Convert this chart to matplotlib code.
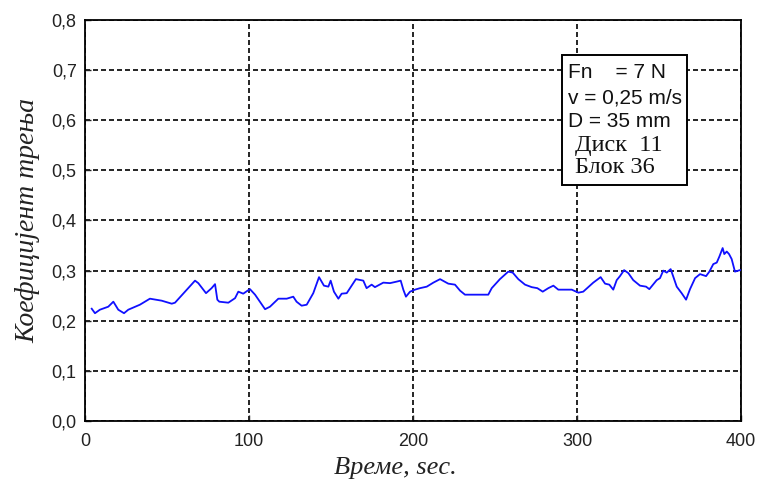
import matplotlib
matplotlib.use("Agg")
import matplotlib.pyplot as plt
from matplotlib.patches import Rectangle
from matplotlib.ticker import FuncFormatter

# Friction coefficient vs time
time_s = [4.1, 6.1, 9.1, 14.2, 17.3, 20.3, 23.8, 26.4, 33.5, 39.6, 46.8, 52.9, 54.9,
          61.0, 67.1, 69.1, 73.8, 77.2, 79.3, 80.7, 81.9, 87.4, 91.5, 93.5, 96.5, 99.6,
          100.6, 103.7, 109.8, 112.8, 117.9, 123.0, 127.0, 129.0, 132.1, 135.2, 139.2,
          142.7, 145.7, 148.4, 149.8, 151.8, 154.5, 156.5, 159.6, 165.2, 169.7, 171.7,
          174.8, 176.8, 181.9, 186.0, 190.0, 192.5, 194.1, 195.7, 198.2, 201.2, 204.3,
          208.4, 212.4, 216.5, 221.5, 225.6, 228.7, 231.7, 245.9, 248.0, 253.0, 258.1,
          260.8, 264.2, 268.3, 272.4, 275.8, 279.1, 282.5, 285.6, 288.6, 293.7, 296.8,
          300.8, 303.8, 309.9, 314.4, 317.1, 319.7, 322.1, 324.2, 326.2, 328.7, 331.3,
          334.3, 338.4, 342.1, 344.1, 348.6, 350.6, 352.6, 354.7, 357.1, 358.7, 360.8,
          363.8, 366.5, 368.9, 372.0, 375.0, 378.7, 380.7, 383.1, 385.2, 386.8, 388.8,
          389.8, 391.3, 392.7, 394.3, 396.3, 399.4]
mu = [0.224, 0.215, 0.222, 0.228, 0.238, 0.222, 0.215, 0.222, 0.232, 0.244, 0.240,
      0.234, 0.236, 0.258, 0.280, 0.275, 0.255, 0.265, 0.273, 0.242, 0.238, 0.236,
      0.245, 0.258, 0.254, 0.261, 0.263, 0.252, 0.223, 0.228, 0.244, 0.244, 0.248,
      0.238, 0.230, 0.232, 0.255, 0.287, 0.270, 0.268, 0.280, 0.258, 0.244, 0.254,
      0.255, 0.283, 0.280, 0.265, 0.272, 0.267, 0.276, 0.275, 0.278, 0.280, 0.262,
      0.248, 0.258, 0.262, 0.265, 0.268, 0.276, 0.283, 0.274, 0.272, 0.260, 0.252,
      0.252, 0.265, 0.283, 0.298, 0.296, 0.283, 0.272, 0.267, 0.265, 0.258, 0.265,
      0.270, 0.262, 0.262, 0.262, 0.256, 0.258, 0.276, 0.287, 0.274, 0.272, 0.262,
      0.281, 0.289, 0.301, 0.295, 0.281, 0.270, 0.268, 0.263, 0.281, 0.285, 0.300,
      0.296, 0.303, 0.288, 0.268, 0.255, 0.242, 0.263, 0.285, 0.293, 0.289, 0.298,
      0.313, 0.316, 0.328, 0.345, 0.333, 0.338, 0.333, 0.323, 0.298, 0.301]

x_ticks = [0, 100, 200, 300, 400]
y_ticks = [0.0, 0.1, 0.2, 0.3, 0.4, 0.5, 0.6, 0.7, 0.8]
info_lines = ["Fn    = 7 N", "v = 0,25 m/s", "D = 35 mm"]
info_lines_serif = ["Диск  11", "Блок 36"]

fig = plt.figure(figsize=(7.58, 4.84), dpi=100)
ax = fig.add_axes([0.1121, 0.1302, 0.8655, 0.8285])

ax.plot(time_s, mu, color="#1010ff", linewidth=1.3, zorder=3)

ax.set_xlim(0, 400)
ax.set_ylim(0, 0.8)
ax.set_xticks(x_ticks)
ax.set_yticks(y_ticks)
ax.yaxis.set_major_formatter(FuncFormatter(lambda v, p: f"{v:.1f}".replace(".", ",")))
ax.tick_params(direction="in", length=4, width=1, labelsize=13, colors="#222222")
ax.tick_params(axis="x", pad=9)
ax.tick_params(axis="y", pad=6)
for lab in ax.get_xticklabels() + ax.get_yticklabels():
    lab.set_family("Liberation Sans")

ax.grid(True, color="black", linestyle=(0, (3.0, 1.8)), linewidth=1.2, zorder=1)
for s in ax.spines.values():
    s.set_linewidth(1.3)

ax.set_xlabel("Време, sec.", fontsize=19, family="Liberation Serif", style="italic",
              color="#222222")
ax.xaxis.set_label_coords(0.4726, -0.09)
ax.set_ylabel("Коефицијент трења", fontsize=20, family="Liberation Serif", style="italic",
              color="#222222", labelpad=8)

# info box
ax.add_patch(Rectangle((0.727, 0.589), 0.191, 0.324, transform=ax.transAxes,
                       facecolor="white", edgecolor="black", linewidth=1.4, zorder=4))
ys = [0.868, 0.805, 0.746]
for t, y in zip(info_lines, ys):
    ax.text(0.736, y, t, transform=ax.transAxes, fontsize=15, family="Liberation Sans",
            va="center", ha="left", color="#111111", zorder=5)
for t, y in zip(info_lines_serif, [0.688, 0.631]):
    ax.text(0.747, y, t, transform=ax.transAxes, fontsize=17.5, family="Liberation Serif",
            va="center", ha="left", color="#111111", zorder=5)

fig.savefig("out.png", dpi=100)
